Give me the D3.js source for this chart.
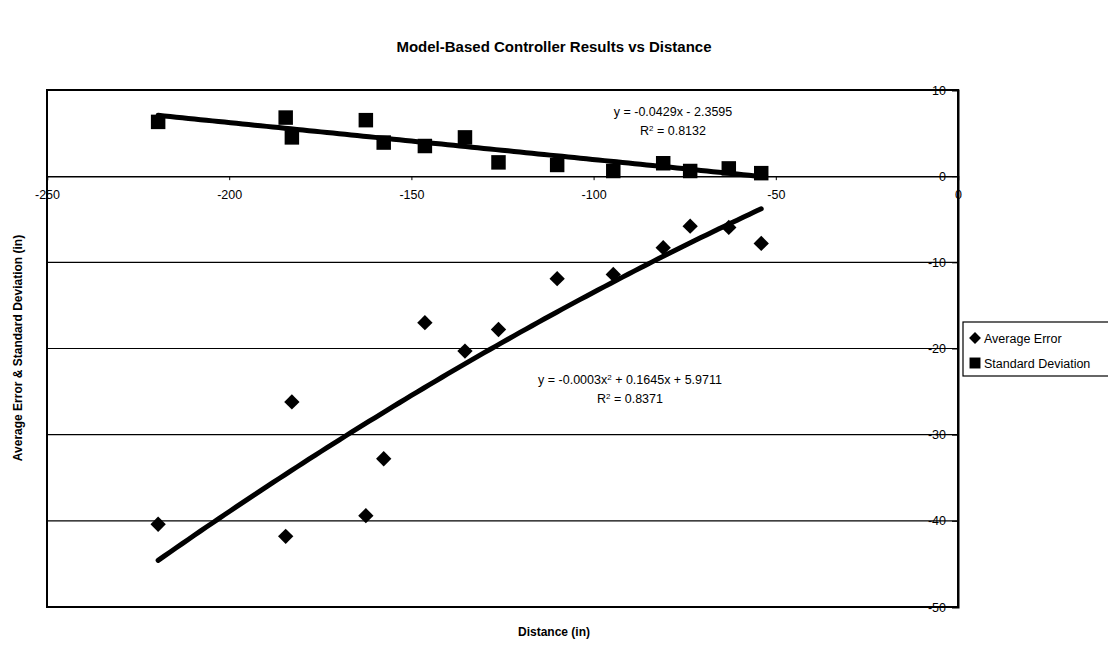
<!DOCTYPE html>
<html>
<head>
<meta charset="utf-8">
<script src="https://cdn.jsdelivr.net/npm/d3@7"></script>
<style>
  html, body { margin: 0; padding: 0; background: #fff; }
  svg { display: block; font-family: "Liberation Sans", Arial, sans-serif; }
</style>
</head>
<body>
<svg id="chart" width="1108" height="646"></svg>
<script>
// Distance to target (in) for each trial
const distance = [-219.5, -184.5, -182.8, -162.5, -157.6, -146.3, -135.3, -126.1, -110.0, -94.6, -80.9, -73.5, -62.9, -54.0];
// Average error (in) at each distance
const avgError = [-40.4, -41.8, -26.2, -39.4, -32.8, -17.0, -20.3, -17.8, -11.9, -11.4, -8.3, -5.8, -5.95, -7.8];
// Standard deviation (in) at each distance
const stdDev = [6.3, 6.8, 4.5, 6.5, 3.9, 3.5, 4.5, 1.6, 1.3, 0.6, 1.5, 0.6, 0.9, 0.35];

// Trendline coefficients (highest power first)
const stdDevFit = [-0.0429, -2.3595];
const avgErrorFit = [-0.0003, 0.1645, 5.9711];

const xTicks = [-250, -200, -150, -100, -50, 0];
const yTicks = [10, 0, -10, -20, -30, -40, -50];
const seriesNames = ["Average Error", "Standard Deviation"];

const svg = d3.select("#chart");
const plot = { left: 47, right: 958, top: 90, bottom: 607 };

const x = d3.scaleLinear().domain([-250, 0]).range([plot.left, plot.right]);
const y = d3.scaleLinear().domain([10, -50]).range([plot.top, plot.bottom]);

const polyval = (c, v) => c.reduce((acc, k) => acc * v + k, 0);
// plain hyphen for negative tick labels
const fmt = d => String(d);

// Title
svg.append("text")
  .attr("x", 554).attr("y", 52)
  .attr("text-anchor", "middle")
  .attr("font-size", 15).attr("font-weight", "bold")
  .text("Model-Based Controller Results vs Distance");

// Horizontal gridlines
svg.append("g")
  .selectAll("line")
  .data(yTicks.filter(t => t !== 0 && t !== 10 && t !== -50))
  .join("line")
  .attr("x1", plot.left).attr("x2", plot.right)
  .attr("y1", d => y(d)).attr("y2", d => y(d))
  .attr("stroke", "#000").attr("stroke-width", 1.2);

// Plot frame
svg.append("rect")
  .attr("x", plot.left).attr("y", plot.top)
  .attr("width", plot.right - plot.left).attr("height", plot.bottom - plot.top)
  .attr("fill", "none").attr("stroke", "#000").attr("stroke-width", 2);

// Y axis sits at x = 0 (right edge), labels on its left
const yAxis = svg.append("g")
  .attr("transform", `translate(${x(0)},0)`)
  .call(d3.axisLeft(y).tickValues(yTicks).tickSize(6).tickPadding(6).tickFormat(fmt));
yAxis.select(".domain").attr("stroke", "#000").attr("stroke-width", 2);
yAxis.selectAll(".tick text").attr("font-size", 12.5).attr("font-family", "Liberation Sans, Arial, sans-serif").attr("fill", "#000");

// X axis crosses at y = 0
const xAxis = svg.append("g")
  .attr("transform", `translate(0,${y(0)})`)
  .call(d3.axisBottom(x).tickValues(xTicks).tickSize(4).tickPadding(10).tickFormat(fmt));
xAxis.select(".domain").attr("stroke", "#000").attr("stroke-width", 1.5);
xAxis.selectAll(".tick text").attr("font-size", 12.5).attr("font-family", "Liberation Sans, Arial, sans-serif").attr("fill", "#000");

// Trendlines
const dMin = d3.min(distance), dMax = d3.max(distance);
const samples = d3.range(0, 101).map(i => dMin + (dMax - dMin) * i / 100);
const line = d3.line().x(d => x(d[0])).y(d => y(d[1]));

svg.append("path")
  .datum(samples.map(v => [v, polyval(stdDevFit, v)]))
  .attr("d", line).attr("fill", "none")
  .attr("stroke", "#000").attr("stroke-width", 5).attr("stroke-linecap", "round");

svg.append("path")
  .datum(samples.map(v => [v, polyval(avgErrorFit, v)]))
  .attr("d", line).attr("fill", "none")
  .attr("stroke", "#000").attr("stroke-width", 5).attr("stroke-linecap", "round");

// Markers
const diamond = d3.symbol().type(d3.symbolDiamond2).size(150);
const square = d3.symbol().type(d3.symbolSquare).size(210);

svg.append("g").selectAll("path")
  .data(distance.map((d, i) => [d, avgError[i]]))
  .join("path")
  .attr("transform", d => `translate(${x(d[0])},${y(d[1])})`)
  .attr("d", diamond).attr("fill", "#000");

svg.append("g").selectAll("path")
  .data(distance.map((d, i) => [d, stdDev[i]]))
  .join("path")
  .attr("transform", d => `translate(${x(d[0])},${y(d[1])})`)
  .attr("d", square).attr("fill", "#000");

// Trendline equations
function eqLabel(cx, cy, parts) {
  const t = svg.append("text")
    .attr("x", cx).attr("y", cy)
    .attr("text-anchor", "middle").attr("font-size", 12.5);
  parts.forEach(p => {
    const s = t.append("tspan").text(p.text);
    if (p.sup) s.attr("baseline-shift", "super").attr("font-size", 8);
  });
}
eqLabel(673, 116, [{ text: "y = -0.0429x - 2.3595" }]);
eqLabel(673, 135, [{ text: "R" }, { text: "2", sup: true }, { text: " = 0.8132" }]);
eqLabel(630, 384, [{ text: "y = -0.0003x" }, { text: "2", sup: true }, { text: " + 0.1645x + 5.9711" }]);
eqLabel(630, 403, [{ text: "R" }, { text: "2", sup: true }, { text: " = 0.8371" }]);

// Axis titles
svg.append("text")
  .attr("x", 554).attr("y", 636)
  .attr("text-anchor", "middle")
  .attr("font-size", 12).attr("font-weight", "bold")
  .text("Distance (in)");

svg.append("text")
  .attr("transform", "translate(22,348) rotate(-90)")
  .attr("text-anchor", "middle")
  .attr("font-size", 12).attr("font-weight", "bold")
  .text("Average Error & Standard Deviation (in)");

// Legend
const legend = svg.append("g").attr("transform", "translate(963,322)");
legend.append("rect")
  .attr("x", 0).attr("y", 0).attr("width", 150).attr("height", 54)
  .attr("fill", "#fff").attr("stroke", "#000").attr("stroke-width", 1.2);
const legendSymbols = [
  d3.symbol().type(d3.symbolDiamond2).size(90),
  d3.symbol().type(d3.symbolSquare).size(120)
];
seriesNames.forEach((name, i) => {
  const cy = 16 + i * 25;
  legend.append("path")
    .attr("transform", `translate(12,${cy})`)
    .attr("d", legendSymbols[i]())
    .attr("fill", "#000");
  legend.append("text")
    .attr("x", 21).attr("y", cy + 4.5)
    .attr("font-size", 12.5)
    .text(name);
});
</script>
</body>
</html>
